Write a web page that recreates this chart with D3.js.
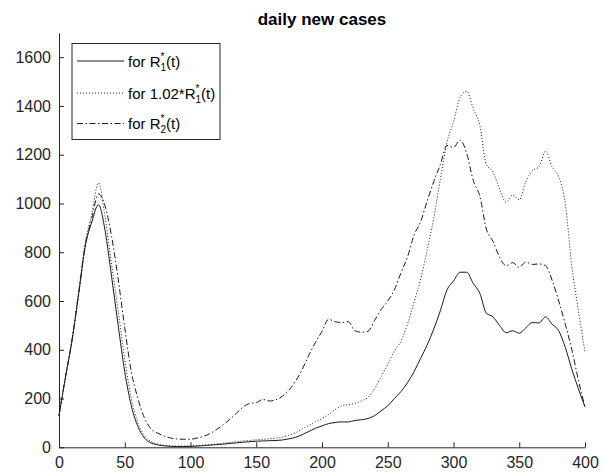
<!DOCTYPE html>
<html>
<head>
<meta charset="utf-8">
<script src="https://cdn.jsdelivr.net/npm/d3@7"></script>
<style>
  body { margin: 0; background: #fff; }
  svg { font-family: "Liberation Sans", Arial, sans-serif; }
</style>
</head>
<body>
<div id="chart"></div>
<script>
const width = 605;
const height = 475;
const margin = { top: 33, right: 20, bottom: 28, left: 59 };

// days sampled every 5
const days = [0, 5, 10, 15, 20, 25, 30, 35, 40, 45, 50, 55, 60, 65, 70, 75, 80, 85, 90, 95,
  100, 105, 110, 115, 120, 125, 130, 135, 140, 145, 150, 155, 160, 165, 170, 175, 180, 185, 190, 195,
  200, 205, 210, 215, 220, 225, 230, 235, 240, 245, 250, 255, 260, 265, 270, 275, 280, 285, 290, 295,
  300, 305, 310, 315, 320, 325, 330, 335, 340, 345, 350, 355, 360, 365, 370, 375, 380, 385, 390, 395, 400];

// for R1*(t)
const casesR1 = [130, 290, 440, 630, 825, 925, 995, 890, 700, 500, 310, 170, 85, 38, 18, 10, 6, 4, 3, 3,
  4, 5, 7, 9, 11, 13, 16, 18, 21, 23, 25, 26, 27, 28, 30, 35, 41, 52, 65, 78,
  88, 97, 102, 104, 104, 110, 113, 118, 130, 150, 170, 200, 228, 265, 310, 365, 420, 485, 560, 645,
  682, 718, 718, 672, 632, 550, 535, 500, 470, 478, 468, 490, 512, 510, 535, 505, 478, 410, 320, 240, 165];

// for 1.02*R1*(t)
const casesR1x = [130, 290, 445, 640, 840, 960, 1085, 945, 750, 560, 360, 200, 100, 48, 24, 13, 8, 6, 5, 5,
  6, 7, 9, 11, 14, 17, 20, 23, 26, 28, 31, 33, 35, 38, 42, 50, 60, 75, 90, 105,
  118, 135, 155, 170, 175, 180, 190, 205, 240, 290, 340, 395, 435, 505, 595, 690, 810, 940, 1100, 1250,
  1335, 1435, 1460, 1390, 1320, 1160, 1130, 1060, 1005, 1035, 1015, 1090, 1135, 1150, 1215, 1150, 1110, 1000, 740, 560, 390];

// for R2*(t)
const casesR2 = [130, 290, 445, 635, 830, 940, 1040, 990, 865, 690, 490, 310, 200, 120, 75, 58, 46, 38, 34, 33,
  33, 38, 45, 57, 73, 93, 115, 140, 165, 180, 183, 196, 190, 195, 210, 235, 272, 320, 378, 430,
  475, 525, 515, 512, 515, 478, 472, 476, 520, 565, 600, 645, 715, 780, 870, 925, 1010, 1090, 1160, 1238,
  1230, 1260, 1206, 1095, 1030, 895, 845, 780, 745, 757, 738, 760, 750, 752, 745, 685, 600, 505, 400, 275, 165];

const xTicks = [0, 50, 100, 150, 200, 250, 300, 350, 400];
const yTicks = [0, 200, 400, 600, 800, 1000, 1200, 1400, 1600];

const series = [
  { name: "R1", values: casesR1, dash: null },
  { name: "R1x", values: casesR1x, dash: "1,2" },
  { name: "R2", values: casesR2, dash: "6,2.5,1.5,2.5" }
];

const svg = d3.select("#chart")
  .append("svg")
  .attr("width", width)
  .attr("height", height);

const x = d3.scaleLinear()
  .domain([0, 400])
  .range([margin.left, 585]);

const y = d3.scaleLinear()
  .domain([0, 1700])
  .range([447.3, 32.8]);

// axes, ticks pointing inward like matlab
const xAxis = d3.axisBottom(x).tickValues(xTicks).tickFormat(d3.format("d"))
  .tickSizeInner(-5).tickSizeOuter(0).tickPadding(9);
const yAxis = d3.axisLeft(y).tickValues(yTicks).tickFormat(d3.format("d"))
  .tickSizeInner(-5).tickSizeOuter(0).tickPadding(8);

const gx = svg.append("g")
  .attr("transform", "translate(0," + y(0) + ")")
  .call(xAxis);

const gy = svg.append("g")
  .attr("transform", "translate(" + x(0) + ",0)")
  .call(yAxis);

[gx, gy].forEach(g => {
  g.select(".domain").attr("stroke", "#262626");
  g.selectAll(".tick line").attr("stroke", "#262626");
  g.selectAll(".tick text")
    .attr("fill", "#262626")
    .style("font-size", "16px")
    .style("font-family", "'Liberation Sans', Arial, sans-serif");
});

// lines
const line = d3.line()
  .x((d, i) => x(days[i]))
  .y(d => y(d))
  .curve(d3.curveMonotoneX);

svg.append("g")
  .selectAll("path")
  .data(series)
  .enter()
  .append("path")
  .attr("d", d => line(d.values))
  .attr("fill", "none")
  .attr("stroke", "#1a1a1a")
  .attr("stroke-width", 1)
  .attr("stroke-dasharray", d => d.dash);

// title
svg.append("text")
  .attr("x", (x(0) + x(400)) / 2)
  .attr("y", 25)
  .attr("text-anchor", "middle")
  .style("font-size", "17px")
  .style("font-weight", "bold")
  .attr("fill", "#000")
  .text("daily new cases");

// legend
const legend = svg.append("g");
legend.append("rect")
  .attr("x", 72)
  .attr("y", 43.5)
  .attr("width", 148)
  .attr("height", 96)
  .attr("fill", "#fff")
  .attr("stroke", "#262626")
  .attr("stroke-width", 1);

const legendRows = [
  { pre: "for R", sub: "1", dash: null, ly: 61 },
  { pre: "for 1.02*R", sub: "1", dash: "1,2", ly: 93 },
  { pre: "for R", sub: "2", dash: "6,2.5,1.5,2.5", ly: 123.5 }
];

legendRows.forEach(r => {
  legend.append("line")
    .attr("x1", 77)
    .attr("x2", 124)
    .attr("y1", r.ly)
    .attr("y2", r.ly)
    .attr("stroke", "#1a1a1a")
    .attr("stroke-width", 1)
    .attr("stroke-dasharray", r.dash);

  const t = legend.append("text")
    .attr("x", 128)
    .attr("y", r.ly + 5.5)
    .attr("fill", "#000")
    .style("font-size", "15px");
  t.append("tspan").text(r.pre);
  t.append("tspan").attr("dy", -7).style("font-size", "10px").text("*");
  t.append("tspan").attr("dx", -4).attr("dy", 11).style("font-size", "10px").text(r.sub);
  t.append("tspan").attr("dy", -4).text("(t)");
});
</script>
</body>
</html>
